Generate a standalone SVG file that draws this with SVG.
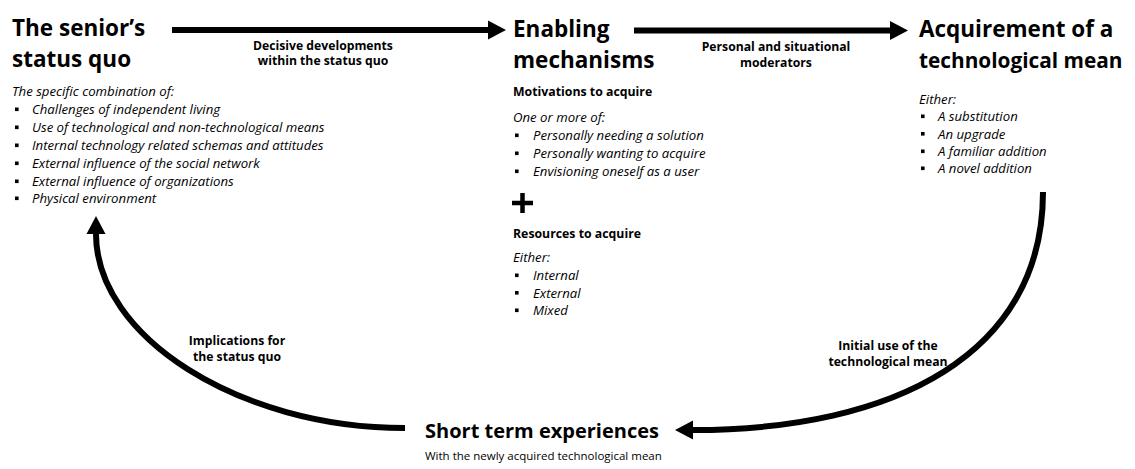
<svg xmlns="http://www.w3.org/2000/svg" xmlns:xlink="http://www.w3.org/1999/xlink" width="1135" height="469" viewBox="0 0 1135 469">
<style>
text { font-family: "Open Sans", "Liberation Sans", sans-serif; fill: #000; }
.title { font-size: 22.5px; font-weight: 700; }
.title2 { font-size: 20px; font-weight: 700; }
.head { font-size: 12.3px; font-weight: 700; }
.lbl { font-size: 12.2px; font-weight: 700; text-anchor: middle; }
.it { font-size: 13.2px; font-style: italic; }
.sub { font-size: 11.5px; }
.conn { fill: none; stroke: #000; stroke-width: 6; }
</style>
<defs>
<marker id="ah" markerUnits="userSpaceOnUse" markerWidth="20" markerHeight="20" refX="0" refY="9.5" orient="auto" overflow="visible">
<path d="M0,0 L18,9.5 L0,19 z" fill="#000"/>
</marker>
<rect id="b" width="3.6" height="3.6" fill="#000"/>
</defs>
<rect width="1135" height="469" fill="#fff"/>
<g id="connectors">
<path class="conn" d="M172,30 L488,30" marker-end="url(#ah)"/>
<path class="conn" d="M634,30.5 L890,30.5" marker-end="url(#ah)"/>
<path class="conn" d="M1043,192 C1043,354 895,430 693,430" marker-end="url(#ah)"/>
<path class="conn" d="M405,428 C238,428 96,336 96,234" marker-end="url(#ah)"/>
<text class="lbl" x="888" y="350">Initial use of the</text>
<text class="lbl" x="888" y="366">technological mean</text>
<text class="lbl" x="237" y="345">Implications for</text>
<text class="lbl" x="237" y="361">the status quo</text>
<text class="lbl" x="323" y="50">Decisive developments</text>
<text class="lbl" x="323" y="65">within the status quo</text>
<text class="lbl" x="776" y="51">Personal and situational</text>
<text class="lbl" x="776" y="67">moderators</text>
</g>
<g id="status-quo">
<text class="title" x="12" y="36">The senior’s</text>
<text class="title" x="12" y="67">status quo</text>
<text class="it" x="12" y="96">The specific combination of:</text>
<use xlink:href="#b" x="15" y="107.5"/><text class="it" x="32" y="114">Challenges of independent living</text>
<use xlink:href="#b" x="15" y="125.5"/><text class="it" x="32" y="132">Use of technological and non-technological means</text>
<use xlink:href="#b" x="15" y="143.5"/><text class="it" x="32" y="150">Internal technology related schemas and attitudes</text>
<use xlink:href="#b" x="15" y="161.5"/><text class="it" x="32" y="168">External influence of the social network</text>
<use xlink:href="#b" x="15" y="179.5"/><text class="it" x="32" y="186">External influence of organizations</text>
<use xlink:href="#b" x="15" y="196.5"/><text class="it" x="32" y="203">Physical environment</text>
</g>
<g id="enabling">
<text class="title" x="513" y="37">Enabling</text>
<text class="title" x="513" y="68">mechanisms</text>
<text class="head" x="513" y="96">Motivations to acquire</text>
<text class="it" x="513" y="122">One or more of:</text>
<use xlink:href="#b" x="515" y="133.5"/><text class="it" x="533" y="140">Personally needing a solution</text>
<use xlink:href="#b" x="515" y="151.5"/><text class="it" x="533" y="158">Personally wanting to acquire</text>
<use xlink:href="#b" x="515" y="169.5"/><text class="it" x="533" y="176">Envisioning oneself as a user</text>
<path d="M512,203 H533 M522.5,193 V213" stroke="#000" stroke-width="4.5" fill="none"/>
<text class="head" x="513" y="238">Resources to acquire</text>
<text class="it" x="513" y="262">Either:</text>
<use xlink:href="#b" x="515" y="273.5"/><text class="it" x="533" y="280">Internal</text>
<use xlink:href="#b" x="515" y="291"/><text class="it" x="533" y="297.5">External</text>
<use xlink:href="#b" x="515" y="308.5"/><text class="it" x="533" y="315">Mixed</text>
</g>
<g id="acquirement">
<text class="title" x="919" y="37">Acquirement of a</text>
<text x="919" y="68" style="font-size:20.8px;font-weight:700">technological mean</text>
<text class="it" x="919" y="104">Either:</text>
<use xlink:href="#b" x="921" y="114.5"/><text class="it" x="938" y="121">A substitution</text>
<use xlink:href="#b" x="921" y="132"/><text class="it" x="938" y="138.5">An upgrade</text>
<use xlink:href="#b" x="921" y="149.5"/><text class="it" x="938" y="156">A familiar addition</text>
<use xlink:href="#b" x="921" y="166.5"/><text class="it" x="938" y="173">A novel addition</text>
</g>
<g id="short-term">
<text class="title2" x="425" y="438">Short term experiences</text>
<text class="sub" x="425" y="460">With the newly acquired technological mean</text>
</g>
</svg>
